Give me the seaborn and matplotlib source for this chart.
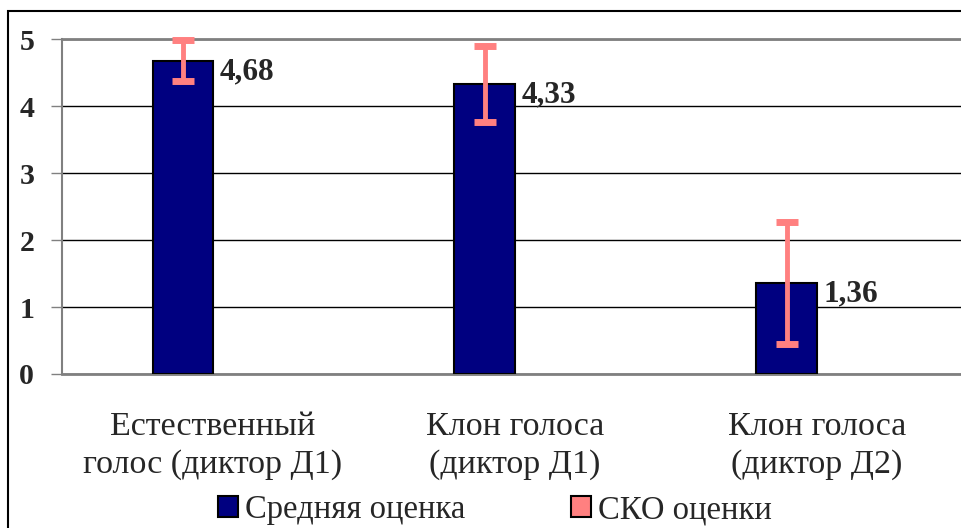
import pandas as pd
import matplotlib
matplotlib.use("Agg")
import matplotlib.pyplot as plt
from matplotlib.patches import Patch, Rectangle
import seaborn as sns

# data
categories = ["Естественный\nголос (диктор Д1)", "Клон голоса\n(диктор Д1)", "Клон голоса\n(диктор Д2)"]
mean_score = [4.68, 4.33, 1.36]
sd_score = [0.31, 0.57, 0.91]
value_labels = ["4,68", "4,33", "1,36"]
legend_labels = ["Средняя оценка", "СКО оценки"]

bar_color = "#000080"
err_color = "#FF8080"

sns.set_style("white")
plt.rcParams["font.family"] = ["Liberation Serif", "DejaVu Serif"]

# long form: the SD series takes the second dodge slot (hidden), as in the original
df = pd.DataFrame({
    "cat": categories * 2,
    "value": mean_score + sd_score,
    "series": [legend_labels[0]] * 3 + [legend_labels[1]] * 3,
})

fig = plt.figure(figsize=(9.61, 5.28), dpi=100)
ax = fig.add_axes([0.0645, 0.2917, 0.9425, 0.634])

sns.barplot(data=df, x="cat", y="value", hue="series", width=0.4,
            palette=[bar_color, err_color], edgecolor="black", linewidth=1.5,
            saturation=1, legend=False, ax=ax, zorder=3)

mean_bars = ax.containers[0]
for p in ax.containers[1]:
    p.set_visible(False)

xs = [p.get_x() + p.get_width() / 2 for p in mean_bars]
eb = ax.errorbar(xs, mean_score, yerr=sd_score, fmt="none",
                 ecolor=err_color, elinewidth=3.5, capsize=8, capthick=5, zorder=4)
for line in eb.lines[1]:
    line.set_solid_capstyle("round")
    line.set_clip_on(False)
for coll in eb.lines[2]:
    coll.set_capstyle("round")
    coll.set_clip_on(False)

for p, v, lab in zip(mean_bars, mean_score, value_labels):
    ax.annotate(lab, xy=(p.get_x() + p.get_width(), v), xytext=(5, -8), textcoords="offset points",
                ha="left", va="center", fontsize=22.5, fontweight="bold", zorder=5)

ax.set_ylim(0, 5)
ax.set_xlim(-0.5, 2.5)
ax.set_yticks(range(6))
ax.set_yticklabels([str(t) for t in range(6)], fontsize=21.5, fontweight="bold")
ax.yaxis.grid(True, color="black", linewidth=1)
ax.set_axisbelow(True)

# category boundaries as ticks, labels at centres
ax.set_xticks([-0.5, 0.5, 1.5, 2.5])
ax.set_xticklabels([])
ax.set_xticks(range(len(categories)), minor=True)
ax.set_xticklabels(categories, minor=True, fontsize=24.5, linespacing=1.3)
ax.tick_params(axis="x", which="minor", length=0, pad=27)
ax.tick_params(axis="x", which="major", length=8, width=1, color="gray", direction="out")
ax.tick_params(axis="y", length=8, width=1, color="gray", direction="out", pad=12, left=True)
ax.set_xlabel("")
ax.set_ylabel("")

for side in ["top", "bottom"]:
    ax.spines[side].set_color("#808080")
    ax.spines[side].set_linewidth(2)
ax.spines["left"].set_color("#808080")
ax.spines["left"].set_linewidth(1.5)
ax.spines["right"].set_visible(False)

handles = [Patch(facecolor=bar_color, edgecolor="black", linewidth=1.5),
           Patch(facecolor=err_color, edgecolor="black", linewidth=1.5)]
fig.legend(handles, legend_labels, loc="center", bbox_to_anchor=(0.515, 0.034),
           ncol=2, frameon=False, fontsize=23.5, handlelength=0.62, handleheight=0.62,
           handletextpad=0.2, columnspacing=3.25, borderpad=0)

fig.patches.append(Rectangle((0.0083, -0.05), 1.1, 0.979 + 0.05, transform=fig.transFigure,
                             fill=False, edgecolor="black", linewidth=1.5))

fig.savefig("out.png", dpi=100)
